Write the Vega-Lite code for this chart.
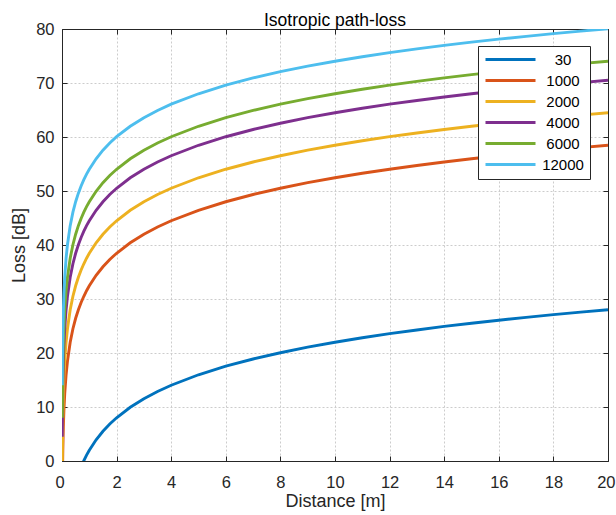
{
  "$schema": "https://vega.github.io/schema/vega-lite/v6.json",
  "width": 546,
  "height": 432,
  "autosize": {"type": "none"},
  "padding": {"left": 62, "top": 29, "right": 8, "bottom": 54},
  "background": "white",
  "title": {"text": "Isotropic path-loss", "fontSize": 17.5, "font": "Liberation Sans", "fontWeight": "normal", "color": "#000000", "offset": -8, "anchor": "middle"},
  "config": {
    "view": {"stroke": null},
    "font": "Liberation Sans",
    "axis": {"labelFont": "Liberation Sans", "titleFont": "Liberation Sans", "labelFontSize": 16.5, "titleFontSize": 18, "titleFontWeight": "normal", "labelColor": "#262626", "titleColor": "#262626", "domainColor": "#262626", "tickColor": "#262626", "gridColor": "#cccccc", "gridDash": [2, 2], "gridWidth": 1, "tickSize": -5, "domainWidth": 1, "labelFlush": false}
  },
  "data": {"values": [
    {"d": 0.01, "30": -38.01, "1000": -7.55, "2000": -1.53, "4000": 4.49, "6000": 8.01, "12000": 14.03},
    {"d": 0.02, "30": -31.99, "1000": -1.53, "2000": 4.49, "4000": 10.51, "6000": 14.03, "12000": 20.06},
    {"d": 0.03, "30": -28.47, "1000": 1.99, "2000": 8.01, "4000": 14.03, "6000": 17.56, "12000": 23.58},
    {"d": 0.05, "30": -24.03, "1000": 6.43, "2000": 12.45, "4000": 18.47, "6000": 21.99, "12000": 28.01},
    {"d": 0.07, "30": -21.11, "1000": 9.35, "2000": 15.37, "4000": 21.39, "6000": 24.92, "12000": 30.94},
    {"d": 0.1, "30": -18.01, "1000": 12.45, "2000": 18.47, "4000": 24.49, "6000": 28.01, "12000": 34.03},
    {"d": 0.15, "30": -14.49, "1000": 15.97, "2000": 21.99, "4000": 28.01, "6000": 31.54, "12000": 37.56},
    {"d": 0.2, "30": -11.99, "1000": 18.47, "2000": 24.49, "4000": 30.51, "6000": 34.03, "12000": 40.06},
    {"d": 0.3, "30": -8.47, "1000": 21.99, "2000": 28.01, "4000": 34.03, "6000": 37.56, "12000": 43.58},
    {"d": 0.4, "30": -5.97, "1000": 24.49, "2000": 30.51, "4000": 36.53, "6000": 40.05, "12000": 46.08},
    {"d": 0.5, "30": -4.03, "1000": 26.43, "2000": 32.45, "4000": 38.47, "6000": 41.99, "12000": 48.01},
    {"d": 0.6, "30": -2.45, "1000": 28.01, "2000": 34.03, "4000": 40.05, "6000": 43.58, "12000": 49.60},
    {"d": 0.7, "30": -1.11, "1000": 29.35, "2000": 35.37, "4000": 41.39, "6000": 44.92, "12000": 50.94},
    {"d": 0.8, "30": 0.05, "1000": 30.51, "2000": 36.53, "4000": 42.55, "6000": 46.08, "12000": 52.10},
    {"d": 0.9, "30": 1.08, "1000": 31.54, "2000": 37.56, "4000": 43.58, "6000": 47.10, "12000": 53.12},
    {"d": 1, "30": 1.99, "1000": 32.45, "2000": 38.47, "4000": 44.49, "6000": 48.01, "12000": 54.03},
    {"d": 1.25, "30": 3.93, "1000": 34.39, "2000": 40.41, "4000": 46.43, "6000": 49.95, "12000": 55.97},
    {"d": 1.5, "30": 5.51, "1000": 35.97, "2000": 41.99, "4000": 48.01, "6000": 51.54, "12000": 57.56},
    {"d": 1.75, "30": 6.85, "1000": 37.31, "2000": 43.33, "4000": 49.35, "6000": 52.87, "12000": 58.90},
    {"d": 2, "30": 8.01, "1000": 38.47, "2000": 44.49, "4000": 50.51, "6000": 54.03, "12000": 60.06},
    {"d": 2.5, "30": 9.95, "1000": 40.41, "2000": 46.43, "4000": 52.45, "6000": 55.97, "12000": 61.99},
    {"d": 3, "30": 11.53, "1000": 41.99, "2000": 48.01, "4000": 54.03, "6000": 57.56, "12000": 63.58},
    {"d": 3.5, "30": 12.87, "1000": 43.33, "2000": 49.35, "4000": 55.37, "6000": 58.89, "12000": 64.92},
    {"d": 4, "30": 14.03, "1000": 44.49, "2000": 50.51, "4000": 56.53, "6000": 60.05, "12000": 66.08},
    {"d": 5, "30": 15.97, "1000": 46.43, "2000": 52.45, "4000": 58.47, "6000": 61.99, "12000": 68.01},
    {"d": 6, "30": 17.56, "1000": 48.01, "2000": 54.03, "4000": 60.05, "6000": 63.58, "12000": 69.60},
    {"d": 7, "30": 18.89, "1000": 49.35, "2000": 55.37, "4000": 61.39, "6000": 64.92, "12000": 70.94},
    {"d": 8, "30": 20.05, "1000": 50.51, "2000": 56.53, "4000": 62.55, "6000": 66.08, "12000": 72.10},
    {"d": 9, "30": 21.08, "1000": 51.54, "2000": 57.56, "4000": 63.58, "6000": 67.10, "12000": 73.12},
    {"d": 10, "30": 21.99, "1000": 52.45, "2000": 58.47, "4000": 64.49, "6000": 68.01, "12000": 74.03},
    {"d": 11, "30": 22.82, "1000": 53.28, "2000": 59.30, "4000": 65.32, "6000": 68.84, "12000": 74.86},
    {"d": 12, "30": 23.58, "1000": 54.03, "2000": 60.06, "4000": 66.08, "6000": 69.60, "12000": 75.62},
    {"d": 13, "30": 24.27, "1000": 54.73, "2000": 60.75, "4000": 66.77, "6000": 70.29, "12000": 76.31},
    {"d": 14, "30": 24.92, "1000": 55.37, "2000": 61.39, "4000": 67.41, "6000": 70.94, "12000": 76.96},
    {"d": 15, "30": 25.51, "1000": 55.97, "2000": 61.99, "4000": 68.01, "6000": 71.54, "12000": 77.56},
    {"d": 16, "30": 26.07, "1000": 56.53, "2000": 62.55, "4000": 68.57, "6000": 72.10, "12000": 78.12},
    {"d": 17, "30": 26.60, "1000": 57.06, "2000": 63.08, "4000": 69.10, "6000": 72.62, "12000": 78.64},
    {"d": 18, "30": 27.10, "1000": 57.56, "2000": 63.58, "4000": 69.60, "6000": 73.12, "12000": 79.14},
    {"d": 19, "30": 27.57, "1000": 58.03, "2000": 64.05, "4000": 70.07, "6000": 73.59, "12000": 79.61},
    {"d": 20, "30": 28.01, "1000": 58.47, "2000": 64.49, "4000": 70.51, "6000": 74.03, "12000": 80.06}
  ]},
  "transform": [
    {"fold": ["30", "1000", "2000", "4000", "6000", "12000"], "as": ["freq", "loss"]}
  ],
  "layer": [
    {
      "mark": {"type": "line", "opacity": 0, "clip": true},
      "encoding": {
        "x": {"field": "d", "type": "quantitative", "scale": {"domain": [0, 20], "nice": false, "zero": false},
              "axis": {"orient": "bottom", "title": "Distance [m]", "values": [0, 2, 4, 6, 8, 10, 12, 14, 16, 18, 20], "grid": true, "labelPadding": 18, "titlePadding": 2, "labelFlush": true, "labelFlushOffset": 7}},
        "y": {"field": "loss", "type": "quantitative", "scale": {"domain": [0, 80], "nice": false, "zero": false},
              "axis": {"orient": "left", "title": "Loss [dB]", "values": [0, 10, 20, 30, 40, 50, 60, 70, 80], "grid": true, "labelPadding": 13, "titlePadding": 7}},
        "detail": {"field": "freq", "type": "nominal"}
      }
    },
    {
      "mark": {"type": "line", "strokeWidth": 2.9, "clip": true},
      "encoding": {
        "x": {"field": "d", "type": "quantitative", "scale": {"domain": [0, 20], "nice": false, "zero": false},
              "axis": {"orient": "top", "title": null, "labels": false, "grid": false, "values": [0, 2, 4, 6, 8, 10, 12, 14, 16, 18, 20]}},
        "y": {"field": "loss", "type": "quantitative", "scale": {"domain": [0, 80], "nice": false, "zero": false},
              "axis": {"orient": "right", "title": null, "labels": false, "grid": false, "values": [0, 10, 20, 30, 40, 50, 60, 70, 80]}},
        "color": {"field": "freq", "type": "nominal",
                  "scale": {"domain": ["30", "1000", "2000", "4000", "6000", "12000"], "range": ["#0072BD", "#D95319", "#EDB120", "#7E2F8E", "#77AC30", "#4DBEEE"]},
                  "legend": {"title": null, "orient": "none", "legendX": 416, "legendY": 17, "symbolType": "stroke", "symbolSize": 2500, "symbolStrokeWidth": 3, "labelFontSize": 15, "labelFont": "Liberation Sans", "labelColor": "#000000", "labelAlign": "center", "labelOffset": 26, "clipHeight": 15, "rowPadding": 5, "padding": 6, "strokeColor": "#262626", "fillColor": "white", "symbolOpacity": 1}}
      }
    }
  ],
  "resolve": {"axis": {"x": "independent", "y": "independent"}}
}
